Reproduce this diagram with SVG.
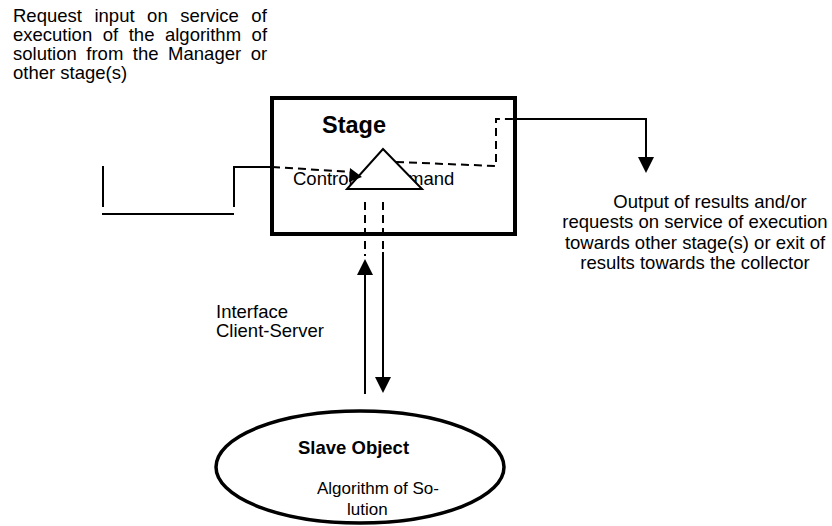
<svg xmlns="http://www.w3.org/2000/svg" width="832" height="526" viewBox="0 0 832 526">
  <defs>
    <style>
      text { font-family: "Liberation Sans", Arial, sans-serif; fill: #000; }
      .txt { font-size: 18.5px; }
      .bold { font-weight: bold; }
      .line { fill: none; stroke: #000; stroke-width: 2; }
      .dash { fill: none; stroke: #000; stroke-width: 2; stroke-dasharray: 8 5; }
    </style>
    <marker id="head" markerUnits="userSpaceOnUse" markerWidth="16" markerHeight="16" refX="1" refY="8" orient="auto">
      <path d="M0,0 L16,8 L0,16 Z" fill="#000"/>
    </marker>
  </defs>
  <rect width="832" height="526" fill="#fff"/>

  <!-- annotations -->
  <g id="input-note" class="txt">
    <text x="13" y="21.5" word-spacing="7.4">Request input on service of</text>
    <text x="13" y="40.5" word-spacing="5.4">execution of the algorithm of</text>
    <text x="13" y="59.5" word-spacing="4.4">solution from the Manager or</text>
    <text x="13" y="78.5">other stage(s)</text>
  </g>
  <g id="output-note" class="txt" text-anchor="middle">
    <text x="710" y="208">Output of results and/or</text>
    <text x="695" y="228">requests on service of execution</text>
    <text x="695" y="248.5">towards other stage(s) or exit of</text>
    <text x="695" y="269">results towards the collector</text>
  </g>
  <g id="interface-note" class="txt">
    <text x="216" y="318">Interface</text>
    <text x="216" y="337">Client-Server</text>
  </g>

  <!-- stage node -->
  <g id="stage">
    <rect x="272" y="98" width="243" height="136" fill="none" stroke="#000" stroke-width="4"/>
    <text class="bold" x="322" y="133" font-size="23.5">Stage</text>
    <text class="txt" x="293" y="185">Control</text>
    <text class="txt" x="369" y="185">Command</text>
  </g>

  <!-- connectors -->
  <g id="connectors">
    <!-- input bracket -->
    <line class="line" x1="103" y1="166" x2="103" y2="207"/>
    <line class="line" x1="102" y1="214" x2="234" y2="214"/>
    <polyline class="line" points="234,207 234,167 272,167"/>
    <line class="dash" x1="272" y1="167" x2="352" y2="172"/>
    <!-- output route -->
    <polyline class="dash" points="396,162 496,166 496,119 515,119"/>
    <polyline class="line" points="515,119 646,119 646,158" marker-end="url(#head)"/>
    <!-- client-server link -->
    <line class="dash" x1="365" y1="202" x2="365" y2="256" stroke-dasharray="9 5"/>
    <line class="dash" x1="383" y1="202" x2="383" y2="252" stroke-dasharray="9 5"/>
    <line class="line" x1="365" y1="394" x2="365" y2="274" marker-end="url(#head)"/>
    <line class="line" x1="383" y1="252" x2="383" y2="378" marker-end="url(#head)"/>
  </g>

  <!-- control/command switch drawn over the labels -->
  <g id="switch">
    <polygon points="383,149 422,189 347,189" fill="#fff" stroke="#000" stroke-width="2" stroke-linejoin="miter"/>
    <polygon points="350,168 349,182 362,177" fill="#000"/>
  </g>

  <!-- slave object node -->
  <g id="slave-object">
    <ellipse cx="360" cy="467" rx="144" ry="56" fill="none" stroke="#000" stroke-width="3.5"/>
    <text class="bold" x="298" y="454" font-size="18.5">Slave Object</text>
    <text x="317" y="494" font-size="17">Algorithm of So-</text>
    <text x="347" y="515" font-size="17">lution</text>
  </g>
</svg>
